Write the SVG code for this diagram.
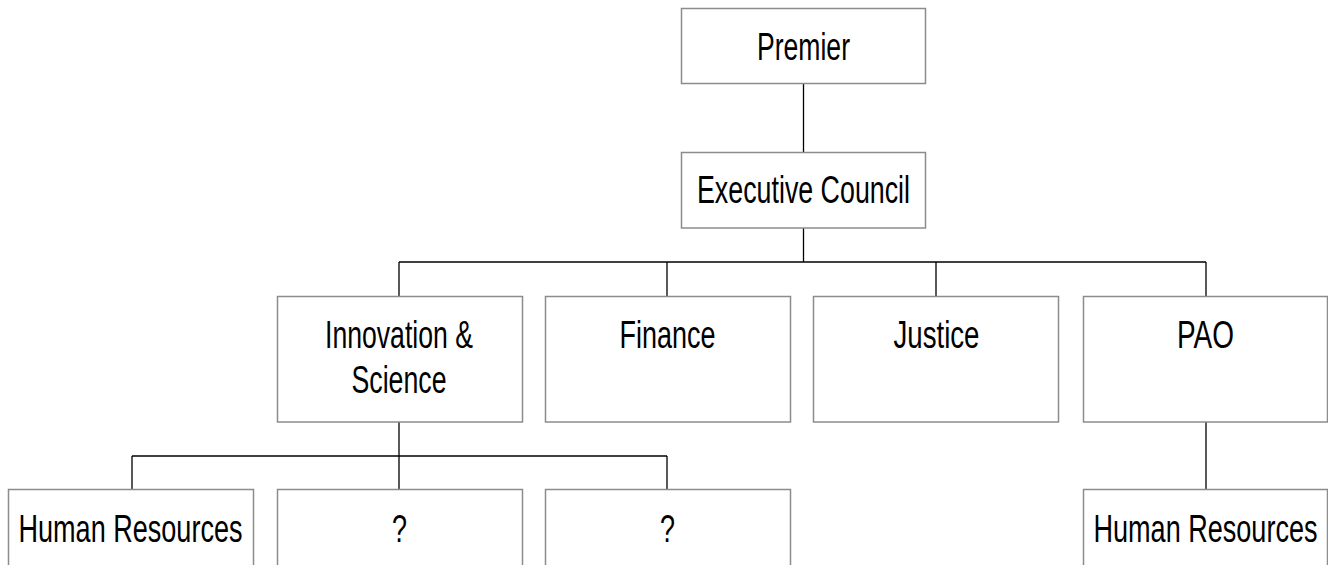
<svg xmlns="http://www.w3.org/2000/svg" width="1328" height="565" viewBox="0 0 1328 565">
  <style>
    .box { fill: #ffffff; stroke: #8c8c8c; stroke-width: 1.5; }
    .lbl { font-family: "Liberation Sans", Arial, sans-serif; font-size: 38px; fill: #000000; text-anchor: middle; }
    .link { fill: none; stroke: #000000; stroke-width: 1.3; }
  </style>
  <rect width="1328" height="565" fill="#ffffff"/>

  <!-- connectors -->
  <g id="connectors">
    <path class="link" d="M803.5,83 V152"/>
    <path class="link" d="M803.5,228 V262"/>
    <path class="link" d="M399,262 H1206"/>
    <path class="link" d="M399,262 V296 M667,262 V296 M936,262 V296 M1206,262 V296"/>
    <path class="link" d="M399,422 V456"/>
    <path class="link" d="M132,456 H667"/>
    <path class="link" d="M132,456 V489 M399,456 V489 M667,456 V489"/>
    <path class="link" d="M1206,422 V489"/>
  </g>

  <g id="premier">
    <rect class="box" x="681.5" y="8.5" width="244" height="75"/>
    <text class="lbl" x="803.5" y="60" textLength="93" lengthAdjust="spacingAndGlyphs">Premier</text>
  </g>

  <g id="executive-council">
    <rect class="box" x="681.5" y="152.5" width="244" height="75.5"/>
    <text class="lbl" x="803.5" y="202.5" textLength="213" lengthAdjust="spacingAndGlyphs">Executive Council</text>
  </g>

  <g id="innovation-science">
    <rect class="box" x="277.5" y="296.5" width="245" height="125.5"/>
    <text class="lbl" x="399" y="348" textLength="148" lengthAdjust="spacingAndGlyphs">Innovation &amp;</text>
    <text class="lbl" x="399" y="393" textLength="95" lengthAdjust="spacingAndGlyphs">Science</text>
  </g>

  <g id="finance">
    <rect class="box" x="545.5" y="296.5" width="245" height="125.5"/>
    <text class="lbl" x="667.5" y="348" textLength="96" lengthAdjust="spacingAndGlyphs">Finance</text>
  </g>

  <g id="justice">
    <rect class="box" x="813.5" y="296.5" width="245" height="125.5"/>
    <text class="lbl" x="936.5" y="348" textLength="86" lengthAdjust="spacingAndGlyphs">Justice</text>
  </g>

  <g id="pao">
    <rect class="box" x="1083.5" y="296.5" width="244" height="125.5"/>
    <text class="lbl" x="1205.5" y="348" textLength="57" lengthAdjust="spacingAndGlyphs">PAO</text>
  </g>

  <g id="innovation-human-resources">
    <rect class="box" x="8.5" y="489.5" width="245" height="90"/>
    <text class="lbl" x="130.5" y="541.5" textLength="224" lengthAdjust="spacingAndGlyphs">Human Resources</text>
  </g>

  <g id="innovation-unknown-1">
    <rect class="box" x="277.5" y="489.5" width="245" height="90"/>
    <text class="lbl" x="399.5" y="541.5" textLength="15" lengthAdjust="spacingAndGlyphs">?</text>
  </g>

  <g id="innovation-unknown-2">
    <rect class="box" x="545.5" y="489.5" width="245" height="90"/>
    <text class="lbl" x="667.5" y="541.5" textLength="15" lengthAdjust="spacingAndGlyphs">?</text>
  </g>

  <g id="pao-human-resources">
    <rect class="box" x="1083.5" y="489.5" width="244" height="90"/>
    <text class="lbl" x="1205.5" y="541.5" textLength="224" lengthAdjust="spacingAndGlyphs">Human Resources</text>
  </g>
</svg>
